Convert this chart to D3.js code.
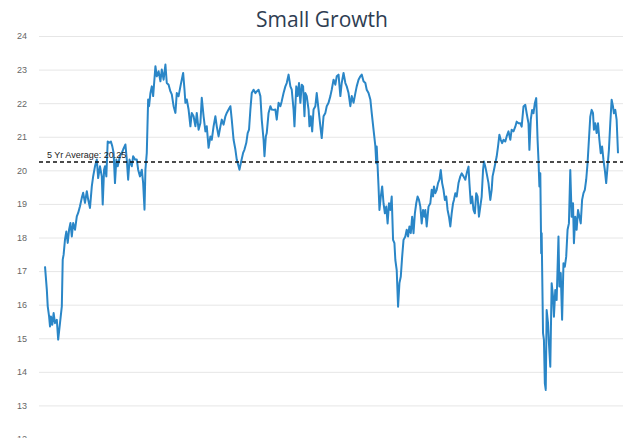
<!DOCTYPE html>
<html>
<head>
<meta charset="utf-8">
<script src="https://cdn.jsdelivr.net/npm/d3@7"></script>
<style>
  body { margin: 0; background: #fff; }
  svg { display: block; }
</style>
</head>
<body>
<script>
// Small Growth ratio (trading day index, value)
var tradingDay = [
  0, 4, 6, 9, 11, 13, 16, 19, 22, 26, 29, 33, 37, 39, 41, 44, 47, 50, 53, 56,
  59, 62, 66, 70, 73, 77, 81, 84, 88, 92, 95, 99, 103, 106, 110, 114, 117, 121, 125, 127,
  130, 132, 135, 138, 141, 145, 148, 151, 154, 157, 160, 165, 169, 172, 177, 180, 183, 186, 191, 194,
  198, 202, 205, 209, 213, 216, 219, 221, 224, 227, 229, 232, 235, 238, 243, 246, 250, 254, 257, 261,
  265, 268, 272, 276, 279, 283, 287, 290, 294, 298, 301, 304, 307, 309, 312, 316, 320, 323, 327, 331,
  334, 338, 342, 345, 349, 353, 356, 360, 364, 367, 371, 375, 378, 382, 386, 389, 393, 397, 400, 404,
  408, 411, 415, 419, 422, 426, 428, 431, 436, 439, 443, 446, 449, 452, 455, 459, 463, 466, 470, 474,
  477, 481, 483, 486, 488, 492, 496, 499, 503, 507, 510, 514, 518, 521, 525, 529, 532, 536, 540, 543,
  547, 549, 553, 556, 559, 562, 565, 568, 571, 573, 576, 580, 582, 585, 588, 591, 595, 598, 602, 606,
  609, 613, 617, 620, 624, 628, 631, 635, 639, 642, 646, 650, 653, 657, 661, 664, 668, 672, 675, 679,
  683, 686, 690, 694, 697, 701, 705, 708, 712, 716, 719, 723, 727, 729, 730, 732, 734, 736, 739, 742,
  745, 748, 751, 754, 757, 760, 763, 766, 769, 771, 774, 777, 780, 783, 786, 789, 793, 796, 799, 802,
  805, 808, 811, 814, 817, 820, 823, 826, 829, 832, 835, 837, 840, 844, 848, 851, 854, 856, 859, 862,
  865, 868, 871, 874, 877, 880, 883, 886, 889, 892, 895, 898, 900, 903, 906, 910, 914, 917, 921, 925,
  928, 932, 934, 937, 940, 943, 946, 949, 952, 955, 958, 961, 964, 966, 969, 972, 976, 980, 983, 985,
  988, 991, 994, 997, 1000, 1003, 1006, 1009, 1013, 1016, 1020, 1024, 1027, 1031, 1035, 1038, 1042, 1046, 1049, 1053,
  1057, 1060, 1064, 1066, 1069, 1072, 1075, 1078, 1081, 1084, 1086, 1088, 1090, 1092, 1093, 1096, 1098, 1100, 1102, 1104,
  1107, 1109, 1112, 1115, 1118, 1120, 1123, 1126, 1130, 1132, 1135, 1138, 1141, 1144, 1147, 1150, 1153, 1156, 1159, 1162,
  1164, 1167, 1170, 1173, 1176, 1179, 1182, 1185, 1188, 1191, 1194, 1197, 1200, 1203, 1206, 1208, 1211, 1214, 1217, 1220,
  1223, 1226, 1229, 1232, 1235, 1238, 1241, 1244, 1247, 1250, 1252, 1255, 1258, 1261
];

var ratio = [
  17.14, 16.45, 15.95, 15.65, 15.35, 15.65, 15.40, 15.75, 15.45, 15.55, 14.96, 15.45, 15.95, 17.34, 17.49, 17.94, 18.18, 17.84, 18.23, 18.43,
  18.03, 18.43, 18.23, 18.63, 18.73, 18.93, 19.18, 19.33, 19.03, 19.38, 19.13, 18.88, 19.52, 19.82, 20.12, 20.32, 19.77, 20.12, 19.82, 18.98,
  20.02, 20.12, 19.82, 20.86, 20.82, 20.86, 20.72, 20.52, 19.62, 20.32, 20.12, 20.42, 20.52, 20.62, 20.77, 20.32, 19.72, 20.32, 20.12, 20.42,
  20.32, 20.32, 20.02, 19.82, 20.02, 19.62, 18.83, 20.02, 20.52, 22.11, 21.91, 22.30, 22.50, 22.21, 23.10, 22.80, 22.95, 22.65, 23.00, 22.70,
  23.15, 22.60, 22.55, 22.35, 22.26, 21.91, 21.71, 22.30, 22.21, 22.50, 22.70, 22.90, 22.40, 22.01, 22.11, 21.81, 21.31, 21.71, 21.61, 21.31,
  21.71, 21.21, 21.41, 22.16, 21.61, 21.16, 21.31, 20.67, 21.01, 20.91, 21.31, 21.61, 21.31, 21.01, 21.31, 21.51, 21.36, 21.61, 21.71, 21.81,
  21.91, 21.51, 20.91, 20.62, 20.32, 20.12, 20.02, 20.22, 20.52, 20.62, 20.82, 21.11, 21.21, 21.81, 22.30, 22.40, 22.30, 22.35, 22.40, 22.21,
  21.51, 20.91, 20.42, 21.01, 21.11, 21.71, 21.91, 21.81, 21.80, 21.81, 21.51, 22.01, 21.91, 22.06, 22.30, 22.50, 22.60, 22.85, 22.50, 22.40,
  21.81, 21.31, 22.50, 22.21, 22.60, 22.01, 22.55, 22.50, 21.61, 22.30, 22.21, 21.81, 21.31, 21.61, 21.16, 21.81, 21.91, 22.30, 21.81, 21.31,
  20.96, 21.61, 21.71, 21.91, 22.01, 22.21, 22.40, 22.70, 22.55, 22.80, 22.85, 22.21, 22.60, 22.90, 22.60, 22.50, 22.30, 21.91, 22.21, 22.01,
  22.30, 22.50, 22.70, 22.80, 22.85, 22.65, 22.60, 22.40, 22.30, 22.11, 21.71, 21.21, 20.72, 20.21, 20.71, 20.11, 19.52, 18.82, 19.22, 19.52,
  19.02, 18.72, 18.92, 18.42, 19.02, 18.82, 19.22, 17.93, 17.83, 17.33, 17.03, 15.94, 16.64, 16.84, 17.43, 17.93, 18.03, 18.23, 18.03, 18.33,
  18.13, 18.62, 18.13, 18.72, 19.02, 19.22, 19.12, 18.92, 18.42, 18.82, 18.62, 18.82, 18.33, 18.92, 19.02, 19.42, 19.22, 19.52, 19.32, 19.42,
  19.62, 19.72, 20.01, 19.62, 19.42, 19.12, 19.22, 18.82, 18.62, 18.33, 18.72, 19.02, 19.12, 19.32, 19.22, 19.62, 19.82, 19.91, 19.82, 19.72,
  19.91, 20.11, 19.62, 19.02, 19.22, 18.82, 18.72, 19.32, 19.22, 18.62, 18.92, 19.22, 20.01, 20.26, 20.11, 19.91, 19.62, 19.12, 19.42, 19.82,
  20.01, 20.21, 20.41, 20.71, 21.06, 20.91, 20.81, 20.91, 20.86, 21.01, 21.16, 20.91, 21.21, 21.16, 21.30, 21.45, 21.40, 21.40, 21.30, 21.90,
  21.95, 21.70, 21.40, 20.61, 21.50, 21.80, 21.70, 22.00, 22.15, 20.91, 20.31, 19.52, 19.91, 17.53, 18.13, 15.15, 14.95, 13.66, 13.46, 15.84,
  15.45, 14.85, 14.15, 16.64, 16.24, 15.64, 16.44, 16.14, 18.03, 16.54, 16.94, 15.55, 17.23, 17.13, 17.43, 18.23, 18.42, 20.01, 18.62, 19.02,
  17.83, 18.62, 18.23, 18.82, 18.62, 18.42, 19.12, 19.32, 19.42, 19.72, 20.21, 20.91, 21.60, 21.80, 21.70, 21.21, 21.40, 21.11, 21.40, 20.91,
  20.51, 20.71, 20.31, 20.01, 19.62, 20.11, 20.61, 21.40, 22.10, 21.90, 21.70, 21.80, 21.50, 20.51
];

var yTicks = [12, 13, 14, 15, 16, 17, 18, 19, 20, 21, 22, 23, 24];
var fiveYrAverage = 20.25;
var chartTitle = "Small Growth";

var svgWidth = 635;
var svgHeight = 438;

var plot = { left: 39, right: 623, top: 36, bottom: 439 };

var svg = d3.select("body")
  .append("svg")
  .attr("width", svgWidth)
  .attr("height", svgHeight);

var data = tradingDay.map(function(d, i) {
  return { day: d, value: ratio[i] };
});

var xScale = d3.scaleLinear()
  .domain([0, d3.max(tradingDay)])
  .range([45, 618]);

var yScale = d3.scaleLinear()
  .domain([12, 24])
  .range([plot.bottom, plot.top]);

// gridlines + labels via a left axis
var leftAxis = d3.axisLeft(yScale)
  .tickValues(yTicks)
  .tickSize(-(plot.right - plot.left))
  .tickPadding(12)
  .tickFormat(d3.format("d"));

var yAxisG = svg.append("g")
  .attr("transform", `translate(${plot.left}, 0)`)
  .call(leftAxis);

yAxisG.select(".domain").remove();
yAxisG.selectAll(".tick line")
  .attr("stroke", "#e6e6e6")
  .attr("stroke-width", 1);
yAxisG.selectAll(".tick text")
  .attr("fill", "#666")
  .style("font-family", "'Liberation Sans', Arial, sans-serif")
  .style("font-size", "9px");

// the series
var line = d3.line()
  .x(d => xScale(d.day))
  .y(d => yScale(d.value));

svg.append("path")
  .datum(data)
  .attr("fill", "none")
  .attr("stroke", "#2a86c7")
  .attr("stroke-width", 2)
  .attr("stroke-linejoin", "round")
  .attr("d", line);

// 5 yr average
svg.append("line")
  .attr("x1", plot.left)
  .attr("x2", plot.right)
  .attr("y1", yScale(fiveYrAverage))
  .attr("y2", yScale(fiveYrAverage))
  .attr("stroke", "#111")
  .attr("stroke-width", 1.5)
  .attr("stroke-dasharray", "4,3");

svg.append("text")
  .attr("x", 47)
  .attr("y", yScale(fiveYrAverage) - 4)
  .attr("fill", "#222")
  .style("font-family", "'Liberation Sans', Arial, sans-serif")
  .style("font-size", "9px")
  .text("5 Yr Average: " + fiveYrAverage);

// title
svg.append("text")
  .attr("x", 322)
  .attr("y", 27)
  .attr("text-anchor", "middle")
  .attr("fill", "#2e3d52")
  .style("font-family", "'Open Sans', sans-serif")
  .style("font-size", "21px")
  .text(chartTitle);
</script>
</body>
</html>
